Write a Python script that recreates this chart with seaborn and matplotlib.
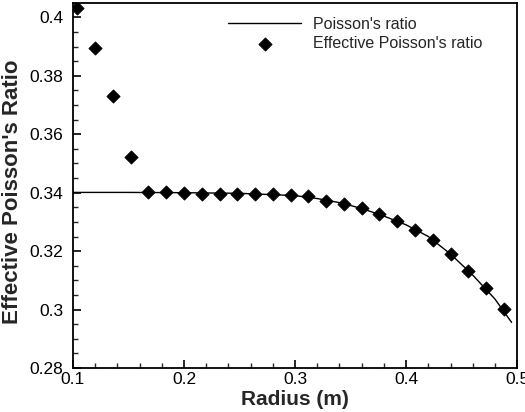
import numpy as np
import matplotlib
matplotlib.use('Agg')
import matplotlib.pyplot as plt
import seaborn as sns
from matplotlib.ticker import FixedLocator, FixedFormatter, MultipleLocator

# ==========================================
# DATOS
# ==========================================
radius_pts = [0.104, 0.120, 0.136, 0.152, 0.168, 0.184, 0.200, 0.216, 0.232,
              0.248, 0.264, 0.280, 0.296, 0.312, 0.328, 0.344, 0.360, 0.376,
              0.392, 0.408, 0.424, 0.440, 0.456, 0.472, 0.488]
eff_poisson = [0.4033, 0.3895, 0.3731, 0.3522, 0.3402, 0.3402, 0.3398, 0.3397,
               0.3397, 0.3397, 0.3394, 0.3394, 0.3391, 0.3388, 0.3373, 0.3363,
               0.3346, 0.3326, 0.3304, 0.3272, 0.3238, 0.3190, 0.3133, 0.3072,
               0.3001]

radius_line = [0.100, 0.150, 0.200, 0.250, 0.300, 0.320, 0.340, 0.360, 0.380,
               0.400, 0.420, 0.440, 0.460, 0.480, 0.495]
poisson_line = [0.3401, 0.3401, 0.3400, 0.3398, 0.3390, 0.3380, 0.3366, 0.3346,
                0.3320, 0.3290, 0.3250, 0.3190, 0.3118, 0.3036, 0.2956]

x_ticks = [0.1, 0.2, 0.3, 0.4, 0.5]
x_tick_labels = ['0.1', '0.2', '0.3', '0.4', '0.5']
y_ticks = [0.28, 0.30, 0.32, 0.34, 0.36, 0.38, 0.40]
y_tick_labels = ['0.28', '0.3', '0.32', '0.34', '0.36', '0.38', '0.4']

# ==========================================
# FIGURA
# ==========================================
sns.set_style('ticks')
plt.rcParams['font.family'] = ['Liberation Sans', 'DejaVu Sans']

fig = plt.figure(figsize=(5.25, 4.12), dpi=100)
ax = fig.add_axes([0.139, 0.107, 0.846, 0.886])

sns.lineplot(x=radius_line, y=poisson_line, color='black', linewidth=1.0,
             label="Poisson's ratio", ax=ax)
sns.scatterplot(x=radius_pts, y=eff_poisson, color='black', marker='D', s=45,
                edgecolor='black', linewidth=0.6,
                label="Effective Poisson's ratio", ax=ax, zorder=3)

ax.set_xlim(0.1, 0.5)
ax.set_ylim(0.28, 0.405)
ax.xaxis.set_major_locator(FixedLocator(x_ticks))
ax.xaxis.set_major_formatter(FixedFormatter(x_tick_labels))
ax.yaxis.set_major_locator(FixedLocator(y_ticks))
ax.yaxis.set_major_formatter(FixedFormatter(y_tick_labels))
ax.xaxis.set_minor_locator(MultipleLocator(0.02))
ax.yaxis.set_minor_locator(MultipleLocator(0.005))
ax.tick_params(which='major', direction='in', length=6, width=1.2,
               labelsize=12.5, colors='black')
ax.tick_params(which='minor', direction='in', length=3.5, width=1.0)
ax.tick_params(axis='x', pad=3)
ax.tick_params(axis='y', pad=7)

for s in ax.spines.values():
    s.set_visible(True)
    s.set_linewidth(1.3)
    s.set_color('black')

ax.set_xlabel('Radius (m)', fontsize=15, fontweight='bold', labelpad=2)
ax.set_ylabel("Effective Poisson's Ratio", fontsize=16, fontweight='bold')
ax.yaxis.set_label_coords(-0.113, 0.482)

ax.legend(loc='upper left', bbox_to_anchor=(0.349, 0.962), frameon=False,
          fontsize=11.5, handlelength=4.6, handletextpad=0.7,
          labelspacing=0.25, borderpad=0, borderaxespad=0, scatterpoints=1)

fig.savefig('out.png', dpi=100)
